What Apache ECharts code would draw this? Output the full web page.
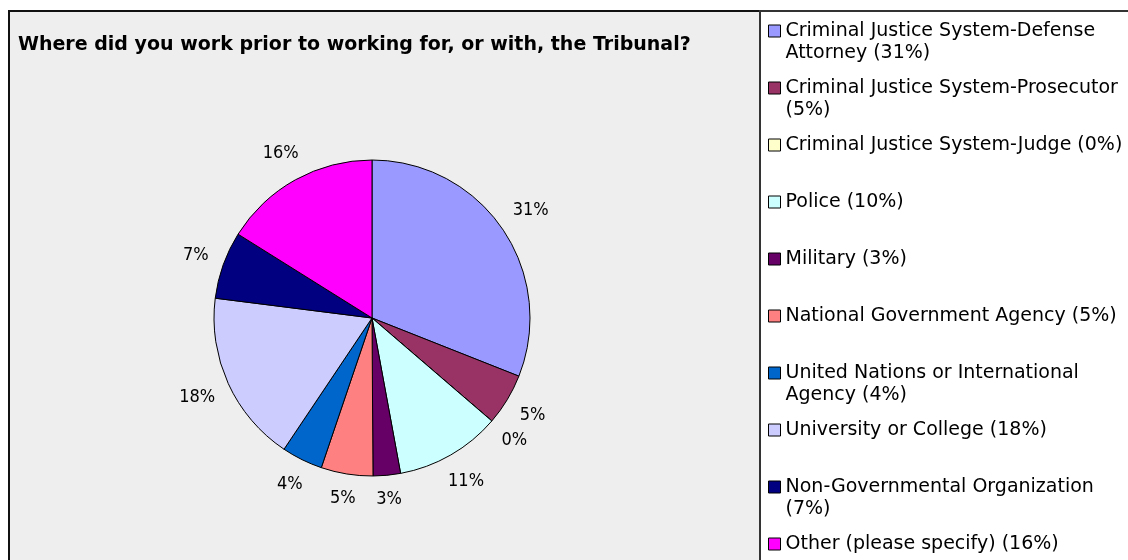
<!DOCTYPE html>
<html>
<head>
<meta charset="utf-8">
<script src="https://cdn.jsdelivr.net/npm/echarts@6/dist/echarts.min.js"></script>
<style>
  html, body { margin: 0; padding: 0; background: #fff; }
  #main { width: 1128px; height: 560px; }
</style>
</head>
<body>
<div id="main"></div>
<script>
  // categories of the pie
  var categories = [
    'Criminal Justice System-Defense Attorney',
    'Criminal Justice System-Prosecutor',
    'Criminal Justice System-Judge',
    'Police',
    'Military',
    'National Government Agency',
    'United Nations or International Agency',
    'University or College',
    'Non-Governmental Organization',
    'Other (please specify)'
  ]
  // share of respondents (percent)
  var shares = [31, 5.3, 0, 10.8, 2.8, 5.3, 4.2, 17.6, 6.9, 16.1]
  // percentages printed in the legend
  var legendPct = [31, 5, 0, 10, 3, 5, 4, 18, 7, 16]
  // legend wording with its line breaks
  var legendLines = [
    ['Criminal Justice System-Defense', 'Attorney'],
    ['Criminal Justice System-Prosecutor', ''],
    ['Criminal Justice System-Judge', null],
    ['Police', null],
    ['Military', null],
    ['National Government Agency', null],
    ['United Nations or International', 'Agency'],
    ['University or College', null],
    ['Non-Governmental Organization', ''],
    ['Other (please specify)', null]
  ]
  var colors = ['#9999ff', '#993366', '#ffffcc', '#ccffff', '#660066',
                '#ff8080', '#0066cc', '#ccccff', '#000080', '#ff00ff']

  var FONT = 'DejaVu Sans'
  var CX = 372, CY = 318, R = 158, GAP = 14

  // blank first line keeps the real first line level with the icon
  function legendText(name) {
    var i = categories.indexOf(name)
    var l = legendLines[i]
    var pct = '(' + legendPct[i] + '%)'
    if (l[1] === null) return ' \n' + l[0] + ' ' + pct + '\n '
    if (l[1] === '') return ' \n' + l[0] + '\n' + pct
    return ' \n' + l[0] + '\n' + l[1] + ' ' + pct
  }

  var myChart = echarts.init(document.getElementById('main'))
  var option = {
    animation: false,
    graphic: [
      { type: 'rect', silent: true, z: -10,
        shape: { x: 9, y: 11, width: 1200, height: 600 },
        style: { fill: '#eeeeee', stroke: '#111', lineWidth: 2 } },
      { type: 'rect', silent: true, z: -9,
        shape: { x: 760, y: 11, width: 400, height: 600 },
        style: { fill: '#ffffff', stroke: '#333', lineWidth: 2 } }
    ],
    title: {
      text: 'Where did you work prior to working for, or with, the Tribunal?',
      left: 18,
      top: 36,
      padding: 0,
      textStyle: { fontFamily: FONT, fontSize: 19, fontWeight: 'bold', color: '#000' }
    },
    legend: {
      orient: 'vertical',
      left: 768,
      top: -2,
      height: 900,
      padding: 0,
      itemWidth: 12,
      itemHeight: 12,
      itemGap: -9,
      icon: 'rect',
      selectedMode: false,
      itemStyle: { borderColor: '#000', borderWidth: 1 },
      textStyle: { fontFamily: FONT, fontSize: 19, color: '#000', lineHeight: 22 },
      formatter: legendText,
      data: categories
    },
    series: [{
      type: 'pie',
      center: [CX, CY],
      radius: R,
      startAngle: 90,
      clockwise: true,
      avoidLabelOverlap: false,
      itemStyle: { borderColor: '#000', borderWidth: 1 },
      label: {
        show: true,
        position: 'outside',
        fontFamily: '"DejaVu Sans Condensed", "Liberation Sans Narrow", "DejaVu Sans"',
        fontSize: 18,
        color: '#000',
        formatter: function (p) { return Math.round(p.percent) + '%' }
      },
      labelLine: { show: true, length: 10, length2: 0, lineStyle: { opacity: 0 } },
      labelLayout: function (params) {
        var p = params.labelLinePoints
        if (!p) return
        var dx = p[0][0] - CX, dy = p[0][1] - CY
        var len = Math.sqrt(dx * dx + dy * dy) || 1
        dx /= len; dy /= len
        var w = params.labelRect.width, h = params.labelRect.height
        var d = R + GAP + Math.abs(dx) * w / 2 + Math.abs(dy) * h / 2
        return { x: CX + dx * d, y: CY + dy * d, align: 'center', verticalAlign: 'middle' }
      },
      emphasis: { disabled: true },
      data: categories.map(function (c, i) {
        return { name: c, value: shares[i], itemStyle: { color: colors[i] } }
      })
    }]
  }
  option && myChart.setOption(option)
</script>
</body>
</html>
